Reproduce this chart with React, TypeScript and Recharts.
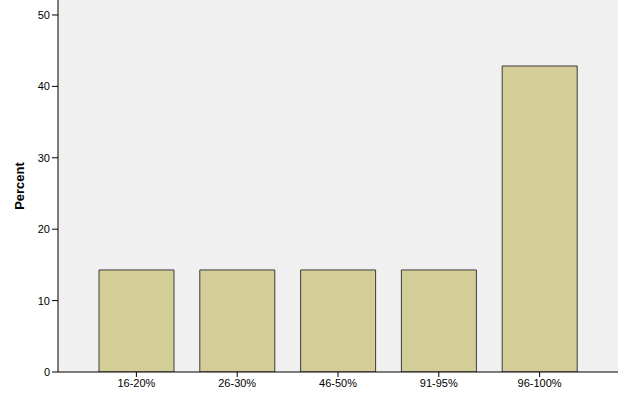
import React from 'react';
import { BarChart, Bar, XAxis, YAxis, CartesianGrid } from 'recharts';

const categories = ['16-20%', '26-30%', '46-50%', '91-95%', '96-100%'];
const percents = [14.29, 14.29, 14.29, 14.29, 42.86];
const yTicks = [0, 10, 20, 30, 40, 50];

const data = categories.map((c, i) => ({ name: c, percent: percents[i] }));

export default function App() {
    return (
        <div style={{ position: 'absolute', left: 0, top: 0, background: '#fff', fontFamily: 'Arial, "Liberation Sans", sans-serif' }}>
            <BarChart
                width={625}
                height={401}
                data={data}
                margin={{ top: 0, right: 7, left: 0, bottom: 0 }}
                barSize={75}
            >
                <CartesianGrid fill="#f0f0f0" horizontal={false} vertical={false} />
                <XAxis
                    dataKey="name"
                    padding={{ left: 28, right: 28 }}
                    height={29}
                    axisLine={{ stroke: '#000' }}
                    tickLine={{ stroke: '#000' }}
                    tickSize={5}
                    tick={{ fill: '#000', fontSize: 11 }}
                    interval={0}
                />
                <YAxis
                    yAxisId="left"
                    width={58}
                    domain={[0, 52.1]}
                    ticks={yTicks}
                    allowDataOverflow
                    axisLine={{ stroke: '#000' }}
                    tickLine={{ stroke: '#000' }}
                    tickSize={6}
                    tick={{ fill: '#000', fontSize: 11 }}
                    label={{ value: 'Percent', angle: -90, position: 'insideLeft', offset: 19, style: { fontWeight: 'bold', fontSize: 13, fill: '#000', textAnchor: 'middle' } }}
                />
                <YAxis
                    yAxisId="right"
                    orientation="right"
                    width={0}
                    domain={[0, 52.1]}
                    tick={false}
                    tickLine={false}
                    axisLine={{ stroke: '#9a9a9a' }}
                />
                <Bar yAxisId="left" dataKey="percent" fill="#d3ce98" stroke="#3c3c3c" strokeWidth={1} isAnimationActive={false} />
            </BarChart>
        </div>
    );
}
